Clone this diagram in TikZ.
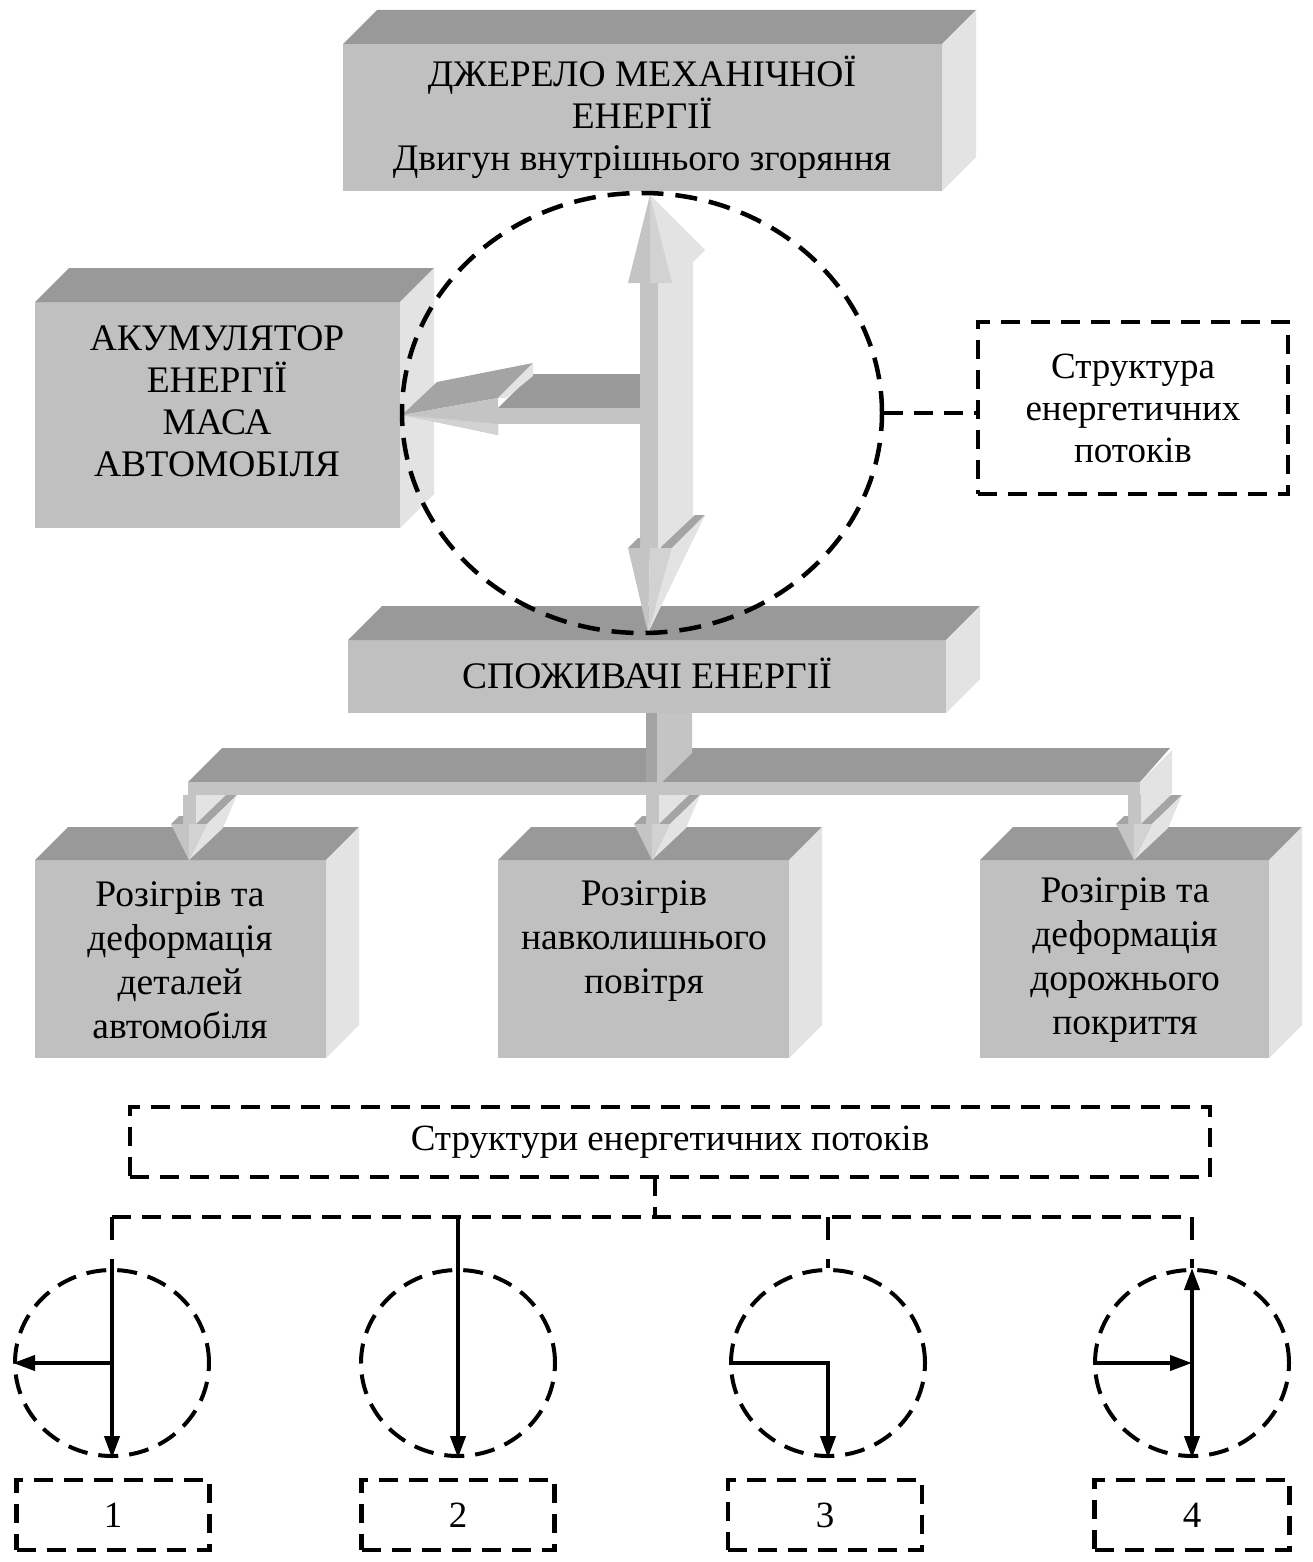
\documentclass[tikz,border=0pt]{standalone}
\usepackage{fontspec}
\setmainfont{Liberation Serif}
\usetikzlibrary{shapes.geometric,arrows.meta}
\definecolor{gtop}{HTML}{999999}
\definecolor{gfront}{HTML}{C0C0C0}
\definecolor{gside}{HTML}{E3E3E3}
\definecolor{afront}{HTML}{C4C4C4}
\definecolor{alight}{HTML}{D2D2D2}
\definecolor{adark}{HTML}{A4A4A4}
\newcommand\cubesides[2]{%
  \fill[gtop] (#1.north west) -- ++(#2,-#2) -- ([shift={(#2,-#2)}]#1.north east) -- (#1.north east) -- cycle;
  \fill[gside] (#1.north east) -- ++(#2,-#2) -- ([shift={(#2,-#2)}]#1.south east) -- (#1.south east) -- cycle;
}
\begin{document}
\begin{tikzpicture}[x=1pt,y=-1pt,
  front/.style={fill=gfront, inner sep=0pt, outer sep=0pt, anchor=north west},
  lbl/.style={font=\fontsize{37.5}{42}\selectfont, align=center, inner sep=0pt},
  lblb/.style={font=\fontsize{37.5}{44}\selectfont, align=center, inner sep=0pt},
  dsh/.style={line width=4.5pt, dash pattern=on 19pt off 11pt},
  vdsh/.style={line width=4.5pt, dash pattern=on 23pt off 19pt},
  cdsh/.style={line width=4pt, dash pattern=on 20pt off 11pt},
  bigdsh/.style={line width=4.5pt, dash pattern=on 22pt off 12pt},
  dbox/.style={draw, dsh, inner sep=0pt, outer sep=0pt, font=\fontsize{37}{42}\selectfont, align=center},
  arr/.style={line width=4pt, -{Triangle[length=22pt,width=15pt]}},
  darr/.style={line width=4pt, {Triangle[length=22pt,width=15pt]}-{Triangle[length=22pt,width=15pt]}},
]
\fill[white] (0,0) rectangle (1312,1562);
\useasboundingbox (0,0) rectangle (1312,1562);

% ---- 3D boxes
\node[front, minimum width=599pt, minimum height=147pt] (src) at (343,44) {};
\cubesides{src}{34}
\node[lbl] (srct) at (642,117) {ДЖЕРЕЛО МЕХАНІЧНОЇ\\ЕНЕРГІЇ\\Двигун внутрішнього згоряння};

\node[front, minimum width=365pt, minimum height=226pt] (acc) at (35,302) {};
\cubesides{acc}{34}
\node[lbl] (acct) at (217,401) {АКУМУЛЯТОР\\ЕНЕРГІЇ\\МАСА\\АВТОМОБІЛЯ};

\node[front, minimum width=598pt, minimum height=73pt] (cons) at (348,640) {};
\cubesides{cons}{34}
\node[lbl] (const) at (647,673) {СПОЖИВАЧІ ЕНЕРГІЇ};

\node[front, minimum width=291pt, minimum height=198pt] (d1) at (35,860) {};
\cubesides{d1}{33}
\node[lblb] (d1t) at (180,960) {Розігрів та\\деформація\\деталей\\автомобіля};

\node[front, minimum width=291pt, minimum height=198pt] (d2) at (498,860) {};
\cubesides{d2}{33}
\node[lblb] (d2t) at (644,941) {Розігрів\\навколишнього\\повітря};

\node[front, minimum width=289pt, minimum height=198pt] (d3) at (980,860) {};
\cubesides{d3}{33}
\node[lblb] (d3t) at (1125,960) {Розігрів та\\деформація\\дорожнього\\покриття};

% ---- horizontal 3D arrow to accumulator
\fill[gtop] (498,408) -- (532,374) -- (640,374) -- (640,408) -- cycle;
\fill[afront] (498,408) rectangle (640,424);
\fill[adark] (402,415) -- (437,382) -- (533,363) -- (498,398) -- cycle;
\fill[gside] (498,398) -- (533,363) -- (533,376) -- (506,398) -- cycle;
\fill[afront] (402,415) -- (498,398) -- (498,435) -- cycle;
\fill[alight] (402,415) -- (498,424) -- (498,435) -- cycle;

% ---- vertical double 3D arrow
\fill[gside] (658,262) -- (693,262) -- (693,530) -- (658,548) -- cycle;
\fill[afront] (640,283) rectangle (658,548);
\fill[gside] (650,195) -- (705,250) -- (693,262) -- (672,283) -- cycle;
\fill[afront] (650,195) -- (628,283) -- (650,283) -- cycle;
\fill[alight] (650,195) -- (650,283) -- (672,283) -- cycle;
\fill[adark] (628,548) -- (638,538) -- (640,538) -- (640,548) -- cycle;
\fill[adark] (660,548) -- (695,515) -- (705,515) -- (672,548) -- cycle;
\fill[gside] (672,548) -- (705,515) -- (648,633) -- cycle;
\fill[afront] (628,548) -- (648,633) -- (650,548) -- cycle;
\fill[alight] (650,548) -- (648,633) -- (672,548) -- cycle;

% ---- distribution 3D arrows
\fill[gtop] (188,782) -- (222,748) -- (1170,748) -- (1140,782) -- cycle;
\fill[adark] (646,713) rectangle (657,787);
\fill[afront] (657,713) -- (692,713) -- (692,753) -- (657,787) -- cycle;
\fill[afront] (188,782) rectangle (1140,795);
\fill[gside] (1140,782) -- (1172,750) -- (1172,793) -- (1140,825) -- cycle;
\foreach \cx in {189,652,1134}{
  \fill[afront] ({\cx-6},795) rectangle ({\cx+7},824);
  \fill[gside] ({\cx+7},795) -- ({\cx+37},795) -- ({\cx+7},824) -- cycle;
  \fill[adark] ({\cx+7},824) -- ({\cx+37},795) -- ({\cx+48},795) -- ({\cx+18},824) -- cycle;
  \fill[adark] ({\cx-18},824) -- ({\cx-10},816) -- ({\cx-6},816) -- ({\cx-6},824) -- cycle;
  \fill[gside] ({\cx+18},824) -- ({\cx+48},795) -- ({\cx+34},828) -- (\cx,860) -- cycle;
  \fill[afront] ({\cx-18},824) -- (\cx,860) -- (\cx,824) -- cycle;
  \fill[alight] (\cx,824) -- (\cx,860) -- ({\cx+18},824) -- cycle;
}

% ---- big dashed circle and structure box
\node[draw, ellipse, bigdsh, minimum width=480pt, minimum height=440pt, inner sep=0pt] (big) at (642,413) {};
\node[dbox, minimum width=310pt, minimum height=172pt] (sp) at (1133,408) {Структура\\енергетичних\\потоків};
\draw[dsh] (big.east) -- (big.east -| sp.west);

% ---- lower schema
\node[dbox, minimum width=1080pt, minimum height=70pt] (ss) at (670,1142) {Структури енергетичних потоків};
\coordinate (hub) at (655,1217);
\foreach \i/\x in {1/112,2/458,3/828,4/1192}{
  \node[draw, ellipse, cdsh, minimum width=194pt, minimum height=186pt, inner sep=0pt] (c\i) at (\x,1363) {};
}
\node[dbox, minimum width=193pt, minimum height=70pt] (n1) at (113,1515) {1};
\node[dbox, minimum width=193pt, minimum height=70pt] (n2) at (458,1515) {2};
\node[dbox, minimum width=194pt, minimum height=70pt] (n3) at (825,1515) {3};
\node[dbox, minimum width=195pt, minimum height=70pt] (n4) at (1192,1515) {4};

\draw[dsh] (hub |- ss.south) -- (hub);
\draw[dsh] (c1.north |- hub) -- (c4.north |- hub);
\draw[vdsh] (c1.north |- hub) -- (c1.north);
\draw[vdsh] (c3.north |- hub) -- (c3.north);
\draw[vdsh] (c4.north |- hub) -- (c4.north);

\draw[arr] (c1.north) -- (c1.south);
\draw[arr] (c1.center) -- (c1.west);
\draw[arr] (c2.north |- hub) -- (c2.south);
\draw[arr] (c3.west) -- (c3.center) -- (c3.south);
\draw[darr] (c4.north) -- (c4.south);
\draw[arr] (c4.west) -- (c4.center);
\end{tikzpicture}
\end{document}
